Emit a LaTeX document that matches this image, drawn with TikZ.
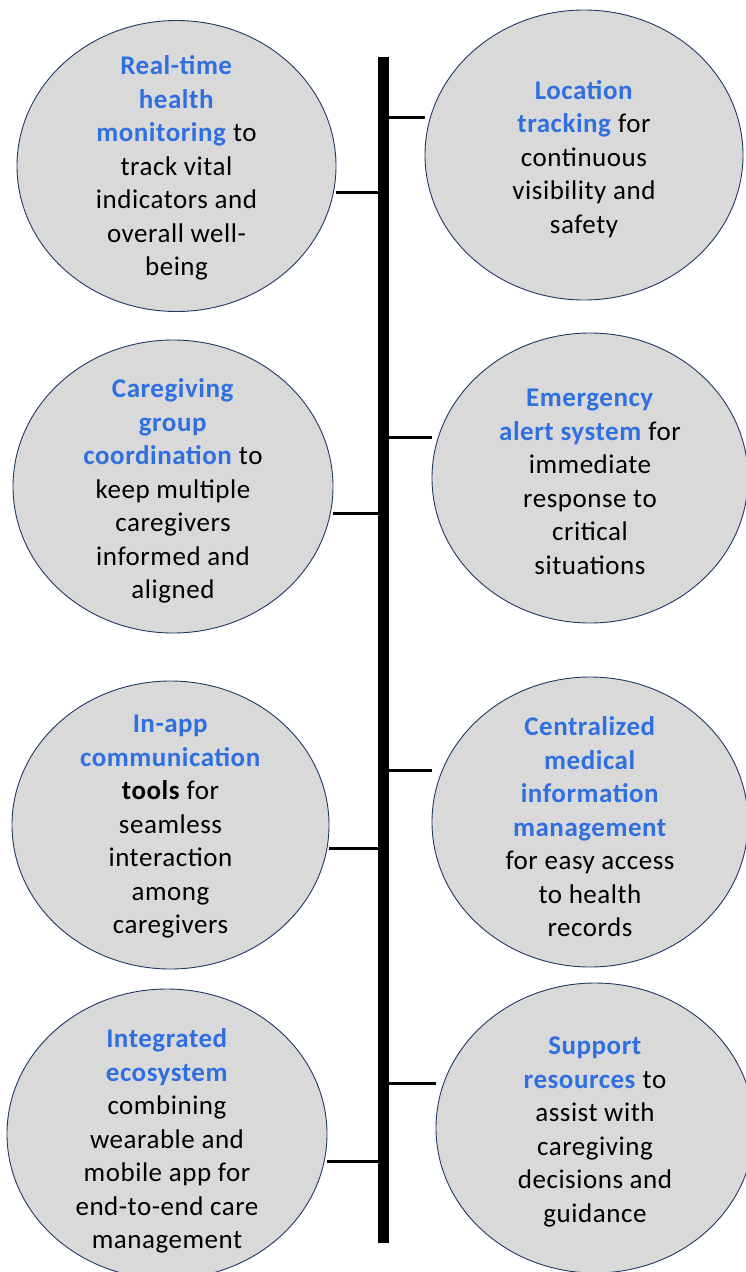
\documentclass[tikz,border=0pt]{standalone}
\usepackage{fontspec}
\setmainfont{Carlito}[LetterSpace=2.0]
\usetikzlibrary{shapes.geometric,backgrounds}
\definecolor{bubblefill}{HTML}{D9D9D9}
\definecolor{bubbleline}{HTML}{203864}
\definecolor{keyblue}{HTML}{2F6FE0}
\newcommand{\kb}[1]{\textcolor{keyblue}{\textbf{#1}}}
\tikzset{
  bubble/.style={ellipse, draw=bubbleline, line width=0.9pt, fill=bubblefill, inner sep=0pt},
  label/.style={align=center, inner sep=0pt, text=black, font=\fontsize{27}{33.5}\selectfont},
  spine/.style={rectangle, fill=black, inner sep=0pt, minimum width=11pt, minimum height=1186pt},
  link/.style={line width=3pt, black}
}
\begin{document}
\begin{tikzpicture}[x=1pt,y=-1pt]
\useasboundingbox (0,0) rectangle (746,1272);
\clip (0,0) rectangle (746,1272);

\node[spine] (bar) at (383.5,650) {};

% left bubbles
\node[bubble, minimum width=319pt, minimum height=291pt] (L1) at (176.5,166) {};
\node[bubble, minimum width=320pt, minimum height=293pt] (L2) at (173,486.5) {};
\node[bubble, minimum width=317pt, minimum height=288pt] (L3) at (170.5,825) {};
\node[bubble, minimum width=320pt, minimum height=290pt] (L4) at (167,1134) {};
% right bubbles
\node[bubble, minimum width=318pt, minimum height=290pt] (R1) at (584,155) {};
\node[bubble, minimum width=316pt, minimum height=290pt] (R2) at (590,478) {};
\node[bubble, minimum width=316pt, minimum height=290pt] (R3) at (590,822) {};
\node[bubble, minimum width=318pt, minimum height=290pt] (R4) at (595,1128) {};

% texts
\node[label] (T1) at (176.5,168) {\kb{Real-time}\\\kb{health}\\\kb{monitoring} to\\track vital\\indicators and\\overall well-\\being};
\node[label] (T2) at (173,491) {\kb{Caregiving}\\\kb{group}\\\kb{coordination} to\\keep multiple\\caregivers\\informed and\\aligned};
\node[label] (T3) at (170.5,827) {\kb{In-app}\\\kb{communication}\\\textbf{tools} for\\seamless\\interaction\\among\\caregivers};
\node[label] (T4) at (167,1141) {\kb{Integrated}\\\kb{ecosystem}\\combining\\wearable and\\mobile app for\\end-to-end care\\management};
\node[label] (T5) at (584,159) {\kb{Location}\\\kb{tracking} for\\continuous\\visibility and\\safety};
\node[label] (T6) at (590,482) {\kb{Emergency}\\\kb{alert system} for\\immediate\\response to\\critical\\situations};
\node[label] (T7) at (590,827) {\kb{Centralized}\\\kb{medical}\\\kb{information}\\\kb{management}\\for easy access\\to health\\records};
\node[label] (T8) at (595,1132) {\kb{Support}\\\kb{resources} to\\assist with\\caregiving\\decisions and\\guidance};

% connector heights
\coordinate (l1) at (383,192);
\coordinate (l2) at (383,513);
\coordinate (l3) at (383,848);
\coordinate (l4) at (383,1161);
\coordinate (r1) at (383,117);
\coordinate (r2) at (383,437);
\coordinate (r3) at (383,770);
\coordinate (r4) at (383,1083);

\begin{pgfonlayer}{background}
\draw[link] (L1.east |- l1) -- (bar.west |- l1);
\draw[link] (L2.east |- l2) -- (bar.west |- l2);
\draw[link] (L3.east |- l3) -- (bar.west |- l3);
\draw[link] (L4.east |- l4) -- (bar.west |- l4);
\draw[link] (bar.east |- r1) -- (R1.west |- r1);
\draw[link] (bar.east |- r2) -- (R2.west |- r2);
\draw[link] (bar.east |- r3) -- (R3.west |- r3);
\draw[link] (bar.east |- r4) -- (R4.west |- r4);
\end{pgfonlayer}
\end{tikzpicture}
\end{document}
